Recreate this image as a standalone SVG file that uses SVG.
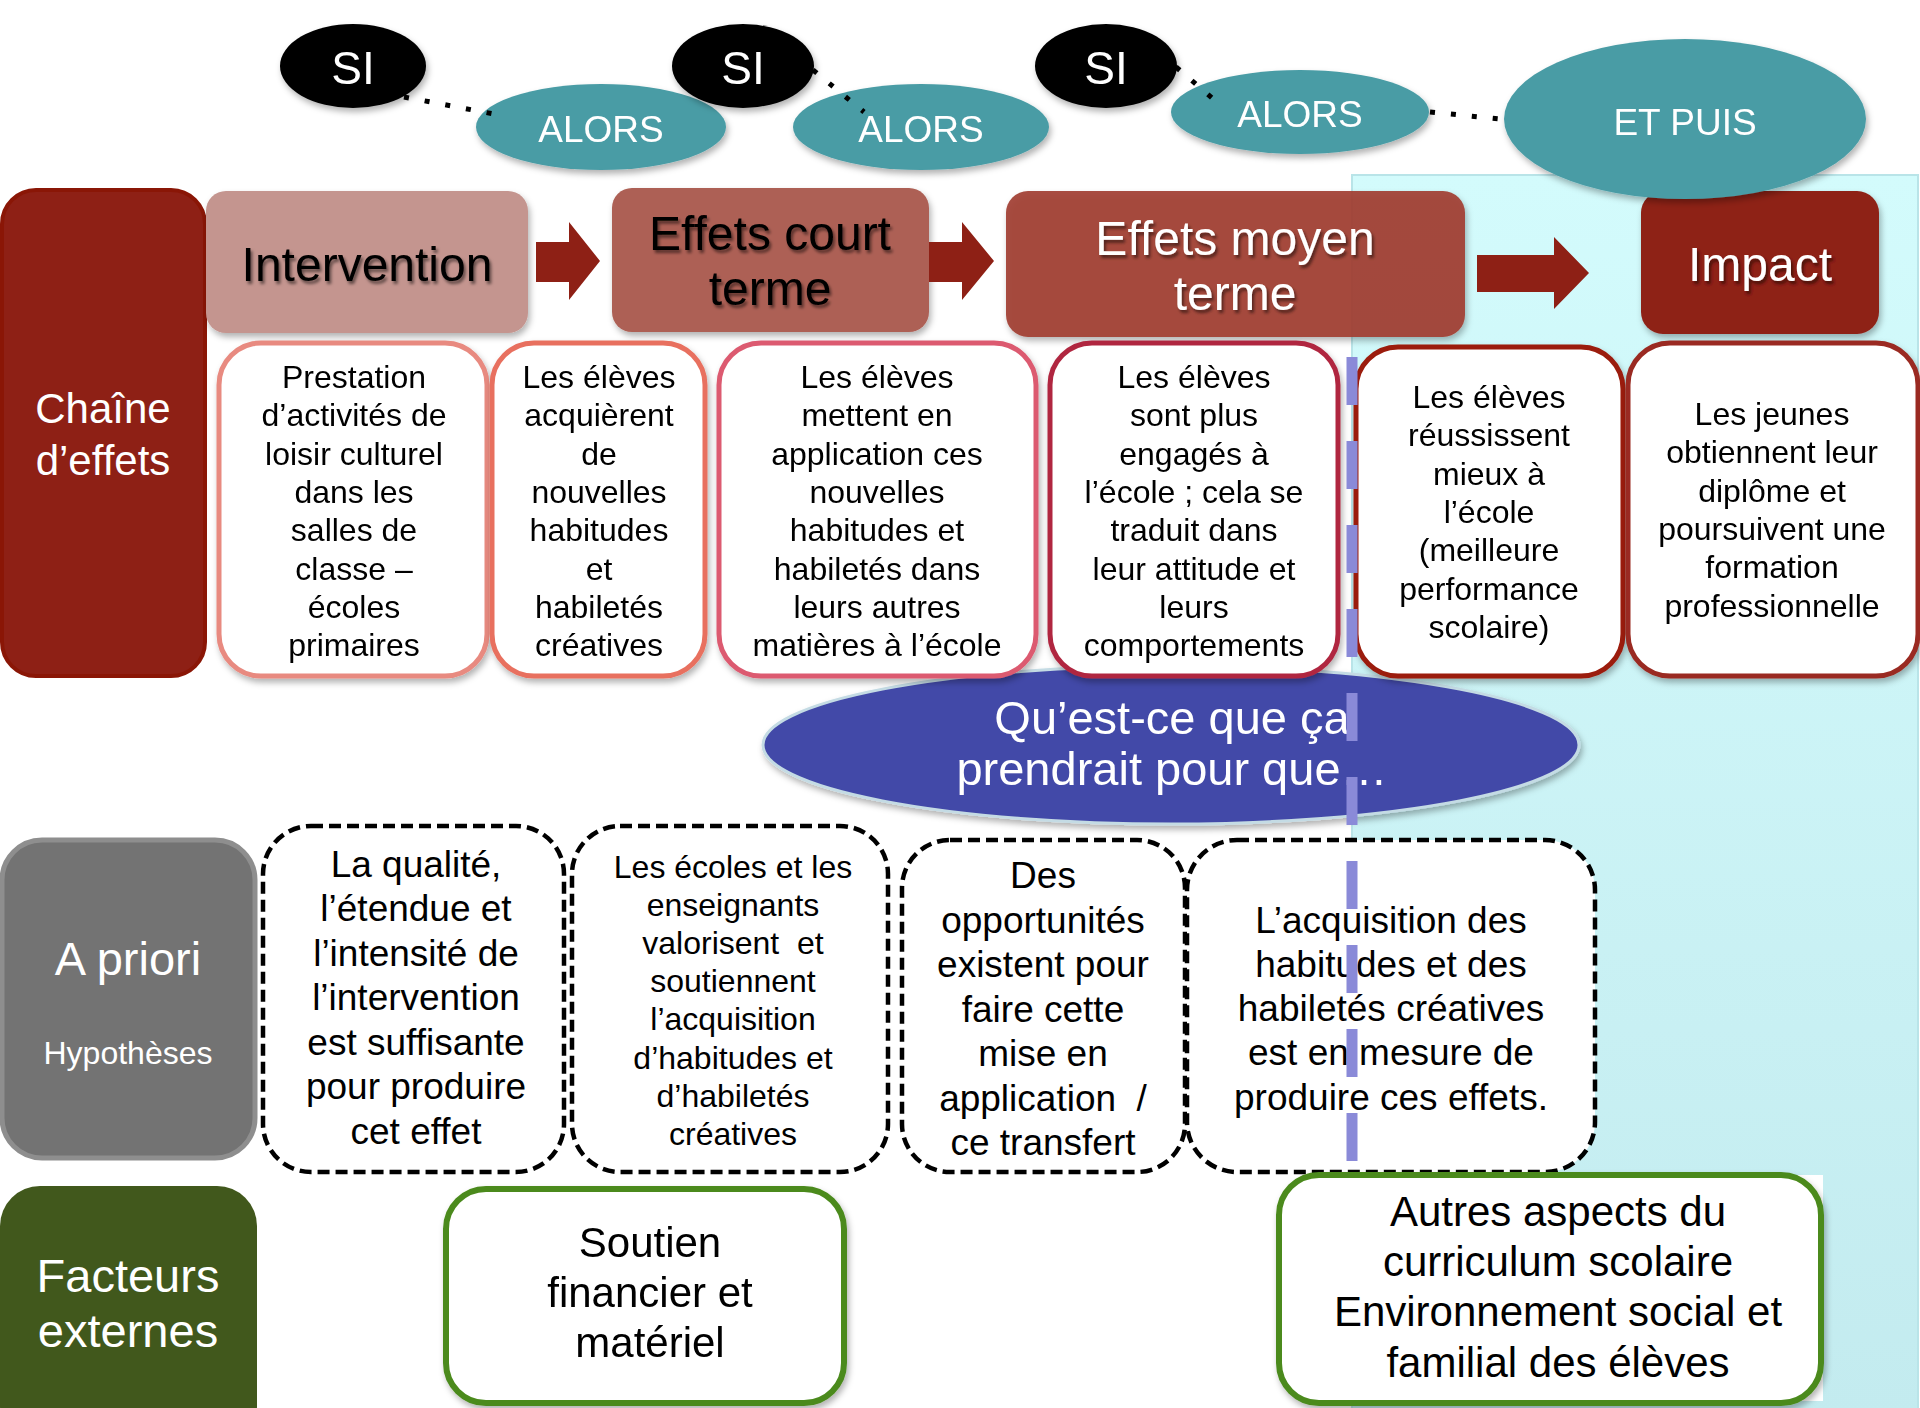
<svg xmlns="http://www.w3.org/2000/svg" width="1920" height="1408" viewBox="0 0 1920 1408">
<defs>
<linearGradient id="cyanGrad" x1="0" y1="0" x2="0" y2="1">
<stop offset="0" stop-color="#d3fbfc"/>
<stop offset="1" stop-color="#c3ebef"/>
</linearGradient>
<filter id="sh" x="-10%" y="-10%" width="125%" height="130%">
<feDropShadow dx="2" dy="4" stdDeviation="3" flood-color="#000" flood-opacity="0.3"/>
</filter>
<filter id="tsh" x="-10%" y="-20%" width="125%" height="150%">
<feDropShadow dx="2" dy="3" stdDeviation="1.5" flood-color="#000" flood-opacity="0.5"/>
</filter>
</defs>
<style>
text { font-family: "Liberation Sans", Arial, sans-serif; text-anchor: middle; }
.hdr { font-size: 48px; }
.w { fill: #ffffff; }
.k { fill: #000000; }
.t32 { font-size: 32px; }
.t37 { font-size: 37px; }
.t42 { font-size: 42px; }
.t47 { font-size: 47px; }
.box { fill: #ffffff; stroke-width: 5; }
.dash { fill: #ffffff; stroke: #000000; stroke-width: 4.5; stroke-dasharray: 12 6; }
.green { fill: #ffffff; stroke: #4b8a1d; stroke-width: 6; }
.dot { fill: none; stroke: #000000; stroke-width: 5; stroke-dasharray: 5 16; }
.arrow { fill: #8e2015; }
.teal { fill: #4a9ca5; }
.blk { fill: #000000; }
</style>

<!-- background cyan zone -->
<rect id="zone" x="1352" y="175" width="566" height="1240" fill="url(#cyanGrad)" stroke="#b9e4e8" stroke-width="2"/>

<!-- Row 1 headers -->
<g id="chaine">
<rect x="2" y="190" width="203" height="486" rx="34" fill="#8e2015" stroke="#8a1606" stroke-width="4"/>
<text class="w t42" x="103" y="423">Chaîne</text>
<text class="w t42" x="103" y="475">d’effets</text>
</g>
<g id="intervention" filter="url(#sh)">
<rect x="206" y="191" width="322" height="142" rx="20" fill="#c4958f"/>
<text class="k hdr" x="367" y="281" filter="url(#tsh)">Intervention</text>
</g>
<g id="court" filter="url(#sh)">
<rect x="612" y="188" width="317" height="144" rx="20" fill="#ad6055"/>
<text class="k hdr" x="770" y="250" filter="url(#tsh)">Effets court</text>
<text class="k hdr" x="770" y="305" filter="url(#tsh)">terme</text>
</g>
<g id="moyen" filter="url(#sh)">
<rect x="1006" y="191" width="459" height="146" rx="22" fill="#a13f33" fill-opacity="0.93"/>
<text class="w hdr" x="1235" y="255" filter="url(#tsh)">Effets moyen</text>
<text class="w hdr" x="1235" y="310" filter="url(#tsh)">terme</text>
</g>
<g id="impact" filter="url(#sh)">
<rect x="1641" y="191" width="238" height="143" rx="22" fill="#8e2015"/>
<text class="w hdr" x="1760" y="281" filter="url(#tsh)">Impact</text>
</g>

<!-- arrows -->
<g id="arrows">
<polygon class="arrow" points="536,242 569,242 569,222 600,261 569,300 569,282 536,282"/>
<polygon class="arrow" points="929,242 962,242 962,222 994,261 962,300 962,282 929,282"/>
<polygon class="arrow" points="1477,255 1554,255 1554,237 1589,273 1554,309 1554,292 1477,292"/>
</g>

<!-- top ovals -->
<g id="alors1" filter="url(#sh)">
<ellipse class="teal" cx="601" cy="127" rx="125" ry="43"/>
<text class="w" x="601" y="142" style="font-size:37px">ALORS</text>
</g>
<g id="alors2" filter="url(#sh)">
<ellipse class="teal" cx="921" cy="127" rx="128" ry="43"/>
<text class="w" x="921" y="142" style="font-size:37px">ALORS</text>
</g>
<g id="alors3" filter="url(#sh)">
<ellipse class="teal" cx="1300" cy="112" rx="129" ry="42"/>
<text class="w" x="1300" y="127" style="font-size:37px">ALORS</text>
</g>
<g id="etpuis" filter="url(#sh)">
<ellipse class="teal" cx="1685" cy="119" rx="181" ry="80"/>
<text class="w" x="1685" y="135" style="font-size:37px">ET PUIS</text>
</g>
<g id="si1" filter="url(#sh)">
<ellipse class="blk" cx="353" cy="66" rx="73" ry="42"/>
<text class="w" x="353" y="84" style="font-size:46px">SI</text>
</g>
<g id="si2" filter="url(#sh)">
<ellipse class="blk" cx="743" cy="66" rx="71" ry="42"/>
<text class="w" x="743" y="84" style="font-size:46px">SI</text>
</g>
<g id="si3" filter="url(#sh)">
<ellipse class="blk" cx="1106" cy="66" rx="71" ry="42"/>
<text class="w" x="1106" y="84" style="font-size:46px">SI</text>
</g>

<!-- connectors -->
<g id="connectors">
<line class="dot" x1="404" y1="97" x2="494" y2="114"/>
<line class="dot" x1="813" y1="70" x2="864" y2="112"/>
<line class="dot" x1="1176" y1="67" x2="1212" y2="98"/>
<line class="dot" x1="1430" y1="112" x2="1500" y2="119"/>
</g>

<!-- question ellipse -->
<g id="question" filter="url(#sh)">
<ellipse cx="1171" cy="745" rx="408" ry="79" fill="#4349a8" stroke="#c4dbe4" stroke-width="3"/>
<text class="w t47" x="1172" y="734">Qu’est-ce que ça</text>
<text class="w t47" x="1172" y="785">prendrait pour que…</text>
</g>

<!-- Row 2 boxes -->
<g id="boxA" filter="url(#sh)">
<rect class="box" x="219" y="343" width="268" height="333" rx="42" stroke="#e88a80"/>
<text class="k t32" x="354" y="388">Prestation</text>
<text class="k t32" x="354" y="426">d’activités de</text>
<text class="k t32" x="354" y="465">loisir culturel</text>
<text class="k t32" x="354" y="503">dans les</text>
<text class="k t32" x="354" y="541">salles de</text>
<text class="k t32" x="354" y="580">classe –</text>
<text class="k t32" x="354" y="618">écoles</text>
<text class="k t32" x="354" y="656">primaires</text>
</g>
<g id="boxB" filter="url(#sh)">
<rect class="box" x="492" y="343" width="213" height="333" rx="42" stroke="#e8705f"/>
<text class="k t32" x="599" y="388">Les élèves</text>
<text class="k t32" x="599" y="426">acquièrent</text>
<text class="k t32" x="599" y="465">de</text>
<text class="k t32" x="599" y="503">nouvelles</text>
<text class="k t32" x="599" y="541">habitudes</text>
<text class="k t32" x="599" y="580">et</text>
<text class="k t32" x="599" y="618">habiletés</text>
<text class="k t32" x="599" y="656">créatives</text>
</g>
<g id="boxC" filter="url(#sh)">
<rect class="box" x="719" y="343" width="317" height="333" rx="42" stroke="#dc5a70"/>
<text class="k t32" x="877" y="388">Les élèves</text>
<text class="k t32" x="877" y="426">mettent en</text>
<text class="k t32" x="877" y="465">application ces</text>
<text class="k t32" x="877" y="503">nouvelles</text>
<text class="k t32" x="877" y="541">habitudes et</text>
<text class="k t32" x="877" y="580">habiletés dans</text>
<text class="k t32" x="877" y="618">leurs autres</text>
<text class="k t32" x="877" y="656">matières à l’école</text>
</g>
<g id="boxD" filter="url(#sh)">
<rect class="box" x="1050" y="343" width="288" height="333" rx="42" stroke="#b02840"/>
<text class="k t32" x="1194" y="388">Les élèves</text>
<text class="k t32" x="1194" y="426">sont plus</text>
<text class="k t32" x="1194" y="465">engagés à</text>
<text class="k t32" x="1194" y="503">l’école ; cela se</text>
<text class="k t32" x="1194" y="541">traduit dans</text>
<text class="k t32" x="1194" y="580">leur attitude et</text>
<text class="k t32" x="1194" y="618">leurs</text>
<text class="k t32" x="1194" y="656">comportements</text>
</g>
<g id="boxE" filter="url(#sh)">
<rect class="box" x="1356" y="347" width="267" height="329" rx="42" stroke="#9b1a0a"/>
<text class="k t32" x="1489" y="408">Les élèves</text>
<text class="k t32" x="1489" y="446">réussissent</text>
<text class="k t32" x="1489" y="485">mieux à</text>
<text class="k t32" x="1489" y="523">l’école</text>
<text class="k t32" x="1489" y="561">(meilleure</text>
<text class="k t32" x="1489" y="600">performance</text>
<text class="k t32" x="1489" y="638">scolaire)</text>
</g>
<g id="boxF" filter="url(#sh)">
<rect class="box" x="1628" y="343" width="290" height="333" rx="42" stroke="#9a2a20"/>
<text class="k t32" x="1772" y="425">Les jeunes</text>
<text class="k t32" x="1772" y="463">obtiennent leur</text>
<text class="k t32" x="1772" y="502">diplôme et</text>
<text class="k t32" x="1772" y="540">poursuivent une</text>
<text class="k t32" x="1772" y="578">formation</text>
<text class="k t32" x="1772" y="617">professionnelle</text>
</g>

<!-- Row 3 -->
<g id="apriori">
<rect x="2" y="840" width="253" height="318" rx="40" fill="#737373" stroke="#8e8e8e" stroke-width="5"/>
<text class="w t47" x="128" y="975">A priori</text>
<text class="w t32" x="128" y="1064">Hypothèses</text>
</g>
<g id="hyp1">
<rect class="dash" x="263" y="826" width="301" height="346" rx="48"/>
<text class="k t37" x="416" y="877">La qualité,</text>
<text class="k t37" x="416" y="921">l’étendue et</text>
<text class="k t37" x="416" y="966">l’intensité de</text>
<text class="k t37" x="416" y="1010">l’intervention</text>
<text class="k t37" x="416" y="1055">est suffisante</text>
<text class="k t37" x="416" y="1099">pour produire</text>
<text class="k t37" x="416" y="1144">cet effet</text>
</g>
<g id="hyp2">
<rect class="dash" x="572" y="826" width="316" height="346" rx="48"/>
<text class="k t32" x="733" y="878">Les écoles et les</text>
<text class="k t32" x="733" y="916">enseignants</text>
<text class="k t32" x="733" y="954">valorisent&#160; et</text>
<text class="k t32" x="733" y="992">soutiennent</text>
<text class="k t32" x="733" y="1030">l’acquisition</text>
<text class="k t32" x="733" y="1069">d’habitudes et</text>
<text class="k t32" x="733" y="1107">d’habiletés</text>
<text class="k t32" x="733" y="1145">créatives</text>
</g>
<g id="hyp3">
<rect class="dash" x="902" y="840" width="283" height="332" rx="48"/>
<text class="k t37" x="1043" y="888">Des</text>
<text class="k t37" x="1043" y="933">opportunités</text>
<text class="k t37" x="1043" y="977">existent pour</text>
<text class="k t37" x="1043" y="1022">faire cette</text>
<text class="k t37" x="1043" y="1066">mise en</text>
<text class="k t37" x="1043" y="1111">application&#160; /</text>
<text class="k t37" x="1043" y="1155">ce transfert</text>
</g>
<g id="hyp4">
<rect class="dash" x="1187" y="840" width="408" height="332" rx="50"/>
<text class="k t37" x="1391" y="933">L’acquisition des</text>
<text class="k t37" x="1391" y="977">habitudes et des</text>
<text class="k t37" x="1391" y="1021">habiletés créatives</text>
<text class="k t37" x="1391" y="1065">est en mesure de</text>
<text class="k t37" x="1391" y="1110">produire ces effets.</text>
</g>

<!-- divider -->
<g id="divider">
<line x1="1352" y1="357" x2="1352" y2="1161" stroke="#8a8ad8" stroke-width="11" stroke-dasharray="48 36"/>
</g>

<!-- Row 4 -->
<g id="facteurs">
<rect x="0" y="1186" width="257" height="260" rx="40" fill="#41581c"/>
<text class="w t47" x="128" y="1292">Facteurs</text>
<text class="w t47" x="128" y="1347">externes</text>
</g>
<g id="soutien" filter="url(#sh)">
<rect class="green" x="446" y="1189" width="398" height="214" rx="40"/>
<text class="k t42" x="650" y="1257">Soutien</text>
<text class="k t42" x="650" y="1307">financier et</text>
<text class="k t42" x="650" y="1357">matériel</text>
</g>
<g id="autres">
<rect x="1278" y="1175" width="545" height="226" fill="#ffffff"/>
<rect class="green" x="1279" y="1175" width="542" height="228" rx="40" filter="url(#sh)"/>
<text class="k t42" x="1558" y="1226">Autres aspects du</text>
<text class="k t42" x="1558" y="1276">curriculum scolaire</text>
<text class="k t42" x="1558" y="1326">Environnement social et</text>
<text class="k t42" x="1558" y="1377">familial des élèves</text>
</g>
</svg>
